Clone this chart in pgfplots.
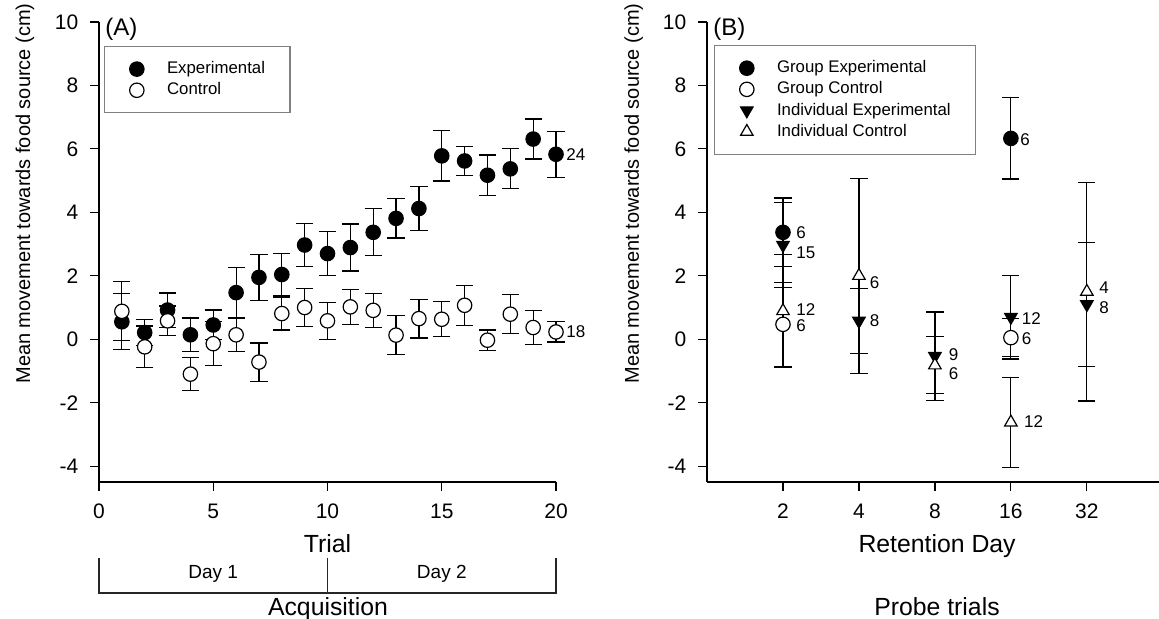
\documentclass[border=0pt]{standalone}
\usepackage{fontspec}
\setmainfont{Liberation Sans}
\usepackage{pgfplots}
\usepackage{pgfplotstable}
\pgfplotsset{compat=1.18}

% (A) acquisition: trial, mean, s.e.
\pgfplotstableread{
x y e
1 0.55 0.88
2 0.21 0.42
3 0.92 0.54
4 0.14 0.53
5 0.45 0.47
6 1.47 0.80
7 1.95 0.72
8 2.04 0.67
9 2.97 0.68
10 2.70 0.70
11 2.89 0.74
12 3.37 0.74
13 3.81 0.62
14 4.12 0.70
15 5.78 0.79
16 5.62 0.46
17 5.17 0.64
18 5.37 0.63
19 6.31 0.63
20 5.83 0.73
}\expA
\pgfplotstableread{
x y e
1 0.88 0.93
2 -0.24 0.66
3 0.58 0.47
4 -1.10 0.52
5 -0.14 0.70
6 0.14 0.52
7 -0.72 0.60
8 0.81 0.52
9 1.00 0.60
10 0.58 0.59
11 1.02 0.56
12 0.91 0.54
13 0.13 0.62
14 0.65 0.61
15 0.63 0.55
16 1.07 0.63
17 -0.03 0.32
18 0.79 0.61
19 0.37 0.54
20 0.23 0.32
}\ctlA

% (B) probe trials: position (1=day 2 ... 5=day 32), mean, s.e.
\pgfplotstableread{
x y e
1 3.37 1.08
4 6.33 1.28
}\grpExp
\pgfplotstableread{
x y e
1 0.47 1.32
4 0.05 0.60
}\grpCtl
\pgfplotstableread{
x y e
1 2.97 1.34
2 0.58 1.03
3 -0.53 1.39
4 0.70 1.32
5 1.10 1.96
}\indExp
\pgfplotstableread{
x y e
1 0.89 1.78
2 2.00 3.07
3 -0.82 0.90
4 -2.62 1.42
5 1.50 3.45
}\indCtl

\tikzset{num/.style={anchor=west, inner sep=0pt, font=\fontsize{8.5}{10}\selectfont}}

\pgfplotsset{
  panel/.style={
    scale only axis, height=230pt,
    axis x line*=bottom, axis y line*=left,
    ymin=-4.5, ymax=10, ytick={-4,-2,...,10},
    tick align=outside, major tick length=4.3pt,
    tick style={line width=0.6pt, black},
    axis line style={line width=0.6pt, black},
    /pgf/number format/assume math mode=true,
    tick label style={font=\fontsize{10.5}{12}\selectfont},
    yticklabel style={xshift=-2.5pt},
    xticklabel style={yshift=-3pt},
    clip=false,
    every axis y label/.style={at={(axis description cs:-0.162,0.627)},
      rotate=90, anchor=center, font=\fontsize{10}{12}\selectfont},
    legend cell align=left,
    legend image code/.code={\draw[##1] plot coordinates {(0pt,0pt)};},
    legend style={anchor=north west, draw=gray, line width=0.6pt,
      inner xsep=12.5pt, inner ysep=7pt, row sep=2pt,
      font=\fontsize{8.4}{9}\selectfont,
      nodes={inner xsep=0pt, inner ysep=0.5pt}},
    /tikz/every odd column/.append style={column sep=11.5pt},
  },
  eb/.style={only marks, mark size=3.6pt, line width=0.6pt, black,
    error bars/y dir=both, error bars/y explicit,
    error bars/error bar style={line width=0.6pt, black},
    error bars/error mark options={rotate=90, line width=0.6pt, mark size=4.3pt, black}},
  filled/.style={mark=*, mark options={fill=black, draw=black, line width=0.6pt}},
  open/.style={mark=*, mark options={fill=white, draw=black, line width=0.6pt}},
  dtri/.style={mark=triangle*, mark options={fill=black, draw=black, rotate=180, line width=0.6pt}},
  utri/.style={mark=triangle*, mark options={fill=white, draw=black, line width=0.6pt}},
}

\begin{document}
\begin{tikzpicture}
\useasboundingbox (0,0) rectangle (579.5pt,309.5pt);

\begin{axis}[panel, at={(49.5pt,68.5pt)}, anchor=south west, width=228.5pt,
  xmin=0, xmax=20, xtick={0,5,...,20},
  xlabel={Trial}, ylabel={Mean movement towards food source (cm)},
  every axis x label/.style={at={(axis description cs:0.5,0)}, anchor=base,
    yshift=-35.35pt, font=\fontsize{12.4}{14}\selectfont},
  legend style={at={(axis description cs:0.011,0.948)}},
]
\addplot[eb, filled] table[x=x, y=y, y error=e] {\expA};
\addlegendentry{Experimental}
\addplot[eb, open] table[x=x, y=y, y error=e] {\ctlA};
\addlegendentry{Control}
\node[num] at (axis cs:20.44,5.83) {24};
\node[num] at (axis cs:20.44,0.23) {18};
\end{axis}

\begin{axis}[panel, at={(353.5pt,68.5pt)}, anchor=south west, width=226pt,
  xmin=0, xmax=5.95, xtick={1,2,3,4,5}, xticklabels={2,4,8,16,32},
  xlabel={Retention Day}, ylabel={Mean movement towards food source (cm)},
  every axis x label/.style={at={(axis description cs:0.509,0)}, anchor=base,
    yshift=-35.35pt, font=\fontsize{12.4}{14}\selectfont},
  legend style={at={(axis description cs:0.0155,0.95)}},
]
\addplot[eb, filled] table[x=x, y=y, y error=e] {\grpExp};
\addlegendentry{Group Experimental}
\addplot[eb, open] table[x=x, y=y, y error=e] {\grpCtl};
\addlegendentry{Group Control}
\addplot[eb, dtri] table[x=x, y=y, y error=e] {\indExp};
\addlegendentry{Individual Experimental}
\addplot[eb, utri] table[x=x, y=y, y error=e] {\indCtl};
\addlegendentry{Individual Control}
\node[num] at (axis cs:1.17,3.37) {6};
\node[num] at (axis cs:1.17,2.74) {15};
\node[num] at (axis cs:1.17,0.95) {12};
\node[num] at (axis cs:1.17,0.42) {6};
\node[num] at (axis cs:2.14,1.79) {6};
\node[num] at (axis cs:2.14,0.58) {8};
\node[num] at (axis cs:3.18,-0.50) {9};
\node[num] at (axis cs:3.18,-1.08) {6};
\node[num] at (axis cs:4.12,6.29) {6};
\node[num] at (axis cs:4.14,0.66) {12};
\node[num] at (axis cs:4.14,0.02) {6};
\node[num] at (axis cs:4.17,-2.60) {12};
\node[num] at (axis cs:5.16,1.63) {4};
\node[num] at (axis cs:5.16,1.00) {8};
\end{axis}

% panel letters
\node[anchor=west, inner sep=0pt, font=\fontsize{12}{14}\selectfont] at (52.5pt,295pt) {(A)};
\node[anchor=west, inner sep=0pt, font=\fontsize{12}{14}\selectfont] at (356.5pt,295pt) {(B)};

% acquisition bracket
\draw[line width=0.6pt, black!85] (49.5pt,30.5pt) -- (49.5pt,13pt) -- (278pt,13pt) -- (278pt,30.5pt)
  (163.75pt,30.5pt) -- (163.75pt,13pt);
\node[font=\fontsize{9.5}{11}\selectfont] at (106.6pt,22.5pt) {Day 1};
\node[font=\fontsize{9.5}{11}\selectfont] at (220.9pt,22.5pt) {Day 2};
\node[anchor=base, inner sep=0pt, font=\fontsize{12.4}{14}\selectfont] at (164pt,1.6pt) {Acquisition};
\node[anchor=base, inner sep=0pt, font=\fontsize{12.4}{14}\selectfont] at (468.5pt,1.6pt) {Probe trials};
\end{tikzpicture}
\end{document}
